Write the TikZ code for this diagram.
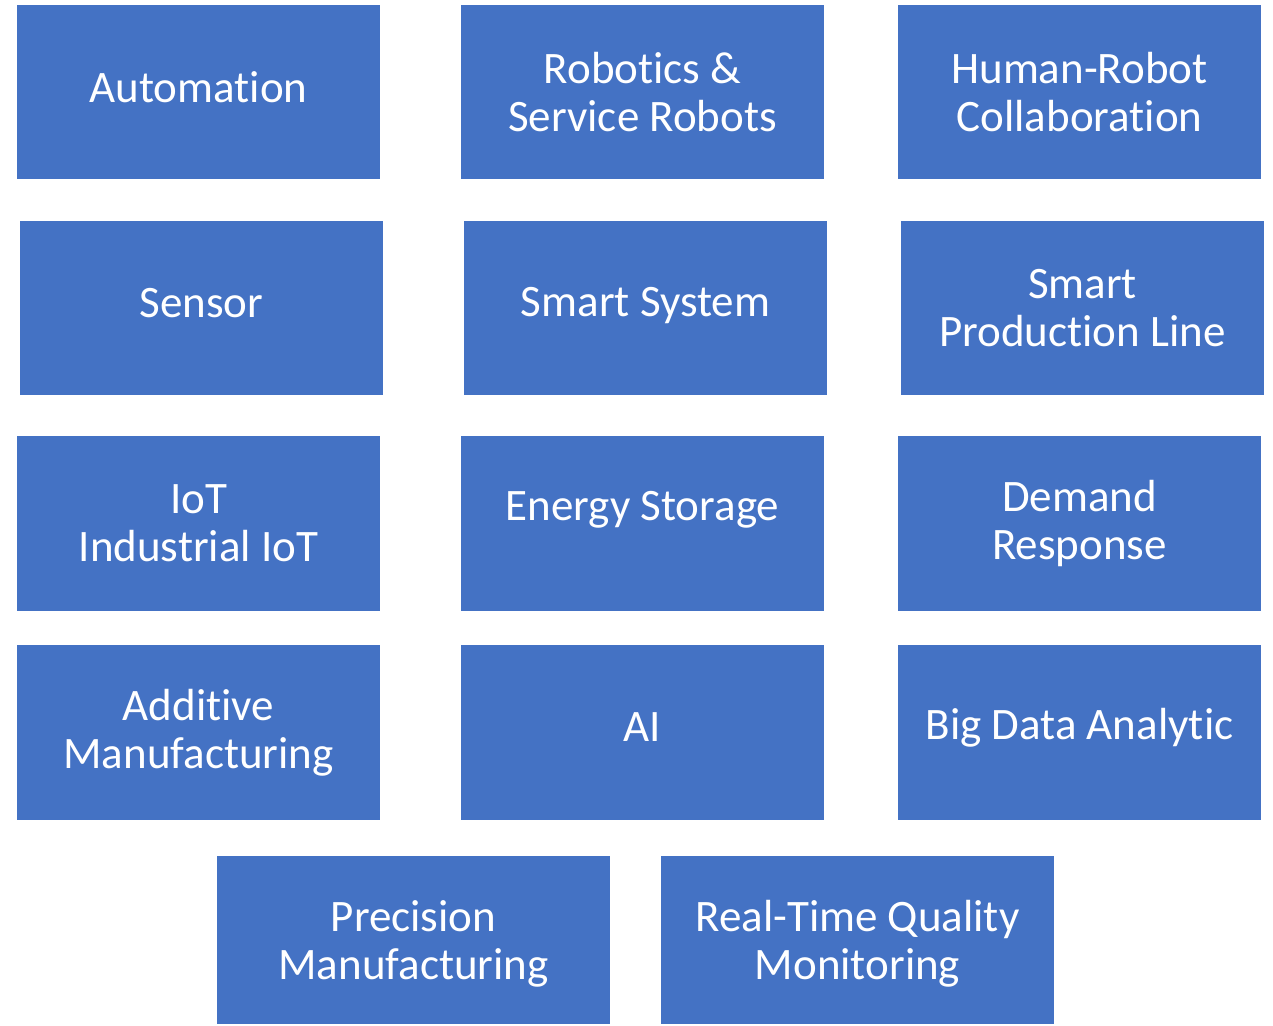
\documentclass[tikz,border=0pt]{standalone}
\usepackage{fontspec}
\setmainfont[Ligatures={NoCommon}]{Carlito}
\definecolor{boxblue}{HTML}{4472C4}
\tikzset{
  tile/.style={draw=none, text=white, align=center,
    font=\fontsize{45}{48}\selectfont, inner sep=0pt},
  oneline/.style={yshift=5pt},
}
\newcommand{\tilebox}[7][]{% opts, name, x1, y1, x2, y2, text
  \path[fill=boxblue] (#3pt,-#4pt) rectangle (#5pt,-#6pt);
  \node[tile, #1] (#2) at ({(#3+#5)/2*1pt},{-(#4+#6)/2*1pt}) {#7};
}
\begin{document}
\begin{tikzpicture}
\useasboundingbox (0,0) rectangle (1273pt,-1025pt);
\tilebox[oneline]{auto}{17}{5}{380}{179}{Automation}
\tilebox{robo}{461}{5}{824}{179}{Robotics \&\\Service Robots}
\tilebox{hrc}{898}{5}{1261}{179}{Human-Robot\\Collaboration}
\tilebox[oneline]{sens}{20}{221}{383}{395}{Sensor}
\tilebox[yshift=2pt]{smart}{464}{221}{827}{395}{Smart System}
\tilebox{spl}{901}{221}{1264}{395}{Smart\\Production Line}
\tilebox{iot}{17}{436}{380}{611}{IoT\\Industrial IoT}
\tilebox[yshift=14pt]{energy}{461}{436}{824}{611}{Energy Storage}
\tilebox{demand}{898}{436}{1261}{611}{Demand\\Response}
\tilebox{add}{17}{645}{380}{820}{Additive\\Manufacturing}
\tilebox[oneline]{ai}{461}{645}{824}{820}{AI}
\tilebox[oneline]{big}{898}{645}{1261}{820}{Big Data Analytic}
\tilebox[yshift=-4pt]{prec}{217}{856}{610}{1024}{Precision\\Manufacturing}
\tilebox[yshift=-4pt]{rtq}{661}{856}{1054}{1024}{Real-Time Quality\\Monitoring}
\end{tikzpicture}
\end{document}
